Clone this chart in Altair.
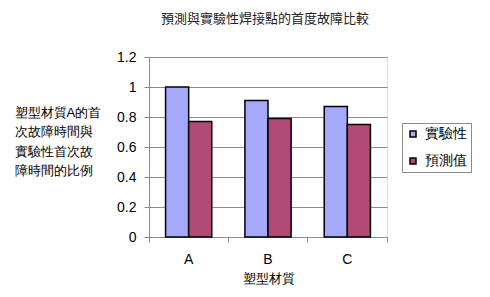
import altair as alt
import pandas as pd

materials = ["A", "B", "C"]
series = ["實驗性", "預測值"]
experimental = [1.0, 0.91, 0.87]
predicted = [0.77, 0.79, 0.75]
colors = ["#A4A9FC", "#B14A76"]
y_ticks = [0, 0.2, 0.4, 0.6, 0.8, 1.0, 1.2]

rows = []
for m, e, p in zip(materials, experimental, predicted):
    rows.append({"material": m, "series": series[0], "value": e})
    rows.append({"material": m, "series": series[1], "value": p})
df = pd.DataFrame(rows)

FONT = "'Liberation Sans', 'Noto Sans CJK TC', sans-serif"
TXT = "#222222"
GRAY = "#8a8a8a"

chart = alt.Chart(df).mark_bar(stroke="black", strokeWidth=1.5).encode(
    x=alt.X(
        "material:N",
        sort=materials,
        scale=alt.Scale(paddingInner=0, paddingOuter=0),
        axis=alt.Axis(
            title="塑型材質",
            labelAngle=0,
            tickSize=5,
            bandPosition=1,
            tickExtra=True,
            grid=False,
            labelPadding=10,
            titlePadding=6,
            labelFontSize=14,
            titleFontSize=13,
            titleFontWeight="normal",
            tickColor=GRAY,
            domainColor=GRAY,
        ),
    ),
    xOffset=alt.XOffset(
        "series:N",
        sort=series,
        scale=alt.Scale(paddingInner=0, paddingOuter=0.717),
    ),
    y=alt.Y(
        "value:Q",
        scale=alt.Scale(domain=[0, 1.2], nice=False),
        axis=alt.Axis(
            values=y_ticks,
            format="~g",
            title=["塑型材質A的首", "次故障時間與", "實驗性首次故", "障時間的比例"],
            titleAngle=0,
            titleAlign="left",
            titleBaseline="top",
            titleX=-135,
            titleY=49,
            titleLineHeight=19.5,
            titleFontSize=13,
            titleFontWeight="normal",
            tickSize=5,
            labelPadding=8,
            labelFontSize=14,
            grid=True,
            gridColor=GRAY,
            gridWidth=1,
        ),
    ),
    color=alt.Color(
        "series:N",
        scale=alt.Scale(domain=series, range=colors),
        legend=alt.Legend(
            title=None,
            orient="none",
            legendX=253,
            legendY=66,
            strokeColor=GRAY,
            fillColor="white",
            padding=4,
            labelFontSize=14,
            labelOffset=5,
            symbolType="square",
            symbolSize=36,
            symbolStrokeColor="black",
            symbolStrokeWidth=1.5,
            rowPadding=13,
        ),
    ),
).properties(
    width=238,
    height=180,
    title=alt.TitleParams(
        "預測與實驗性焊接點的首度故障比較",
        fontSize=13,
        fontWeight="normal",
        anchor="middle",
        dx=-3,
        offset=24,
        color=TXT,
        font=FONT,
    ),
    autosize=alt.AutoSizeParams(type="none"),
    padding={"left": 149, "top": 57, "right": 103, "bottom": 60},
).configure_view(
    strokeWidth=0,
).configure_axis(
    labelFont=FONT,
    titleFont=FONT,
    labelColor=TXT,
    titleColor=TXT,
    titleFontWeight="normal",
    domainColor=GRAY,
    tickColor=GRAY,
).configure_legend(
    labelFont=FONT,
    labelColor=TXT,
).configure(background="white")

chart.save("out.html", embed_options={"renderer": "svg", "actions": False})
